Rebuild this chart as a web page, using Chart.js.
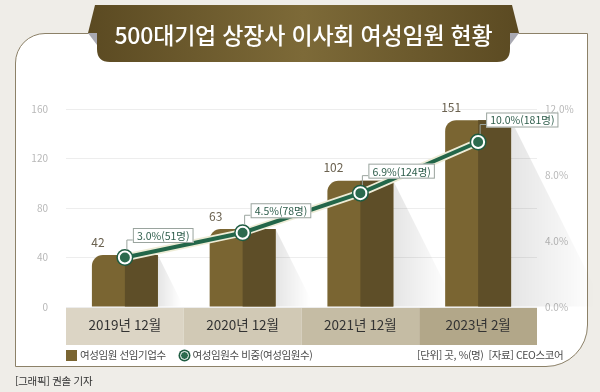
<!DOCTYPE html>
<html lang="ko">
<head>
<meta charset="utf-8">
<script src="https://cdn.jsdelivr.net/npm/chart.js@4/dist/chart.umd.min.js"></script>
<style>
  html, body { margin:0; padding:0; }
  body { width:600px; height:392px; overflow:hidden; background:#efede8; position:relative;
         font-family:"Noto Sans CJK KR","Noto Sans",sans-serif; }
  #panel { position:absolute; left:15px; top:33px; width:571px; height:332px; background:#ffffff;
           border:1.5px solid #8c8168; border-radius:30px 0 42px 0; }
  #chartWrap { position:absolute; left:0; top:0; width:600px; height:392px; }
  #banner { position:absolute; left:0; top:0; }
  #title { position:absolute; left:97px; width:413px; top:19px; text-align:center; color:#ffffff;
           font-size:23px; font-weight:500; line-height:30px; letter-spacing:-0.2px; }
  .leg { position:absolute; top:348px; font-size:10.5px; color:#4a4a4a; line-height:14px; letter-spacing:-0.4px; white-space:nowrap; }
  .sq { display:inline-block; width:11px; height:11px; background:#7a6532; vertical-align:-2px; margin-right:3px; }
  .ci { display:inline-block; width:7px; height:7px; border-radius:50%; background:#2b6a4e; border:1.5px solid #fff;
        box-shadow:0 0 0 1.5px #1f5c42; vertical-align:-1px; margin-right:4px; margin-left:1.5px; }
  #footer { position:absolute; left:15px; top:373px; font-size:10.5px; color:#333; letter-spacing:-0.3px; }
</style>
</head>
<body>
<div id="panel"></div>
<div id="chartWrap"><canvas id="c" width="600" height="392"></canvas></div>
<svg id="banner" width="600" height="70" viewBox="0 0 600 70">
  <defs>
    <linearGradient id="bg" x1="0" x2="1" y1="0" y2="0">
      <stop offset="0" stop-color="#5b4a22"/>
      <stop offset="0.5" stop-color="#7d6a38"/>
      <stop offset="1" stop-color="#5b4a22"/>
    </linearGradient>
  </defs>
  <path d="M95,5 L512,5 L519,33 L510,33 L510,49 Q510,62 497,62 L110,62 Q97,62 97,49 L97,33 L88,33 Z" fill="url(#bg)"/>
  <path d="M88,33 L97,33 L97,45 Z" fill="#a9a9b2"/>
  <path d="M519,33 L510,33 L510,45 Z" fill="#a9a9b2"/>
</svg>
<div id="title">500대기업 상장사 이사회 여성임원 현황</div>
<div class="leg" style="left:66px;"><span class="sq"></span>여성임원 선임기업수</div>
<div class="leg" style="left:178px;"><span class="ci"></span>여성임원수 비중(여성임원수)</div>
<div class="leg" style="left:417px;">[단위] 곳, %(명) &nbsp;[자료] CEO스코어</div>
<div id="footer">[그래픽] 권솔 기자</div>
<script>
const categories = ['2019년 12월', '2020년 12월', '2021년 12월', '2023년 2월'];
const companyCounts = [42, 63, 102, 151];
const femaleShare = [3.0, 4.5, 6.9, 10.0];
const femaleExecutives = [51, 78, 124, 181];
const leftTicks = [0, 40, 80, 120, 160];
const rightTicks = [0, 4, 8, 12];

const bandColors = ['#dcd5c5', '#d1c9b5', '#c5bca4', '#b2a789'];
const FONT = '"Noto Sans CJK KR","Noto Sans",sans-serif';

const decor = {
  id: 'decor',
  beforeDraw(chart) {
    const ctx = chart.ctx, x = chart.scales.x;
    const step = x.getPixelForValue(1) - x.getPixelForValue(0);
    ctx.save();
    categories.forEach((c, i) => {
      const cx = x.getPixelForValue(i);
      ctx.fillStyle = bandColors[i];
      ctx.fillRect(cx - step / 2, x.top, step, x.bottom - x.top);
    });
    ctx.restore();
  },
  beforeDatasetsDraw(chart) {
    const ctx = chart.ctx;
    const meta = chart.getDatasetMeta(0);
    ctx.save();
    meta.data.forEach(bar => {
      const xr = bar.x + bar.width / 2, h = bar.base - bar.y;
      const dx = h * 0.5;
      const g = ctx.createLinearGradient(xr, 0, xr + dx * 0.9, 0);
      g.addColorStop(0, 'rgba(0,0,0,0.10)');
      g.addColorStop(1, 'rgba(0,0,0,0)');
      ctx.fillStyle = g;
      ctx.beginPath();
      ctx.moveTo(xr, bar.y);
      ctx.lineTo(xr + dx, bar.base);
      ctx.lineTo(xr, bar.base);
      ctx.closePath();
      ctx.fill();
    });
    ctx.restore();
  },
  afterDatasetDraw(chart, args) {
    if (args.index !== 0) return;
    const ctx = chart.ctx;
    ctx.save();
    args.meta.data.forEach(bar => {
      ctx.fillStyle = '#5e4e28';
      ctx.fillRect(bar.x, bar.y, bar.width / 2, bar.base - bar.y);
    });
    ctx.restore();
  },
  afterDatasetsDraw(chart) {
    const ctx = chart.ctx;
    ctx.save();
    ctx.font = '12px ' + FONT;
    ctx.fillStyle = '#6b6250';
    ctx.textAlign = 'center';
    ctx.textBaseline = 'middle';
    chart.getDatasetMeta(0).data.forEach((bar, i) => {
      ctx.fillText(String(companyCounts[i]), bar.x - bar.width / 2 + 6, bar.y - 13);
    });
    ctx.font = '10.5px ' + FONT;
    chart.getDatasetMeta(2).data.forEach((pt, i) => {
      const txt = femaleShare[i].toFixed(1) + '%(' + femaleExecutives[i] + '명)';
      const tw = ctx.measureText(txt).width;
      const bx = pt.x + 8, bh = 15, by = pt.y - 22 - bh / 2, bw = tw + 8;
      ctx.strokeStyle = '#9aa49e';
      ctx.lineWidth = 1;
      ctx.beginPath();
      ctx.moveTo(pt.x + 2, pt.y - 8);
      ctx.lineTo(pt.x + 2, by + bh - 3);
      ctx.lineTo(bx, by + bh - 3);
      ctx.stroke();
      ctx.fillStyle = '#ffffff';
      ctx.fillRect(bx, by, bw, bh);
      ctx.strokeRect(bx + 0.5, by + 0.5, bw - 1, bh - 1);
      ctx.fillStyle = '#2f5e4c';
      ctx.textAlign = 'left';
      ctx.fillText(txt, bx + 4, by + bh / 2 + 0.5);
    });
    ctx.restore();
  }
};

new Chart(document.getElementById('c'), {
  data: {
    labels: categories,
    datasets: [
      { type: 'bar', data: companyCounts, yAxisID: 'y', order: 3,
        backgroundColor: '#7a6532', borderSkipped: false,
        borderRadius: { topLeft: 11, topRight: 0, bottomLeft: 0, bottomRight: 0 },
        categoryPercentage: 1, barPercentage: 0.56 },
      { type: 'line', data: femaleShare, yAxisID: 'y1', order: 2,
        borderColor: '#eeecd6', borderWidth: 7.5, pointRadius: 8.5,
        pointBackgroundColor: '#1f5c42', pointBorderWidth: 0, tension: 0 },
      { type: 'line', data: femaleShare, yAxisID: 'y1', order: 1,
        borderColor: '#236649', borderWidth: 4, pointRadius: 6,
        pointBackgroundColor: '#2b6a4e', pointBorderColor: '#ffffff', pointBorderWidth: 2, tension: 0 }
    ]
  },
  options: {
    responsive: false,
    animation: false,
    events: [],
    layout: { padding: { top: 109, bottom: 47, left: 0, right: 0 } },
    plugins: { legend: { display: false }, tooltip: { enabled: false } },
    scales: {
      x: {
        grid: { display: false, drawTicks: false },
        border: { display: false },
        ticks: { color: '#333333', font: { family: FONT, size: 13.5 }, padding: 10 },
        afterFit(s) { s.height = 38; }
      },
      y: {
        position: 'left', min: 0, max: 160,
        afterBuildTicks(s) { s.ticks = leftTicks.map(v => ({ value: v })); },
        grid: { color: '#ededed', drawTicks: false, lineWidth: 1 },
        border: { display: false },
        ticks: { color: '#b8b8b8', font: { family: FONT, size: 10 }, padding: 18 },
        afterFit(s) { s.width = 66; }
      },
      y1: {
        position: 'right', min: 0, max: 12,
        afterBuildTicks(s) { s.ticks = rightTicks.map(v => ({ value: v })); },
        grid: { display: false, drawTicks: false },
        border: { display: false },
        ticks: { color: '#b8b8b8', font: { family: FONT, size: 10 }, padding: 8,
                 callback: v => Number(v).toFixed(1) + '%' },
        afterFit(s) { s.width = 63; }
      }
    }
  },
  plugins: [decor]
});
</script>
</body>
</html>
